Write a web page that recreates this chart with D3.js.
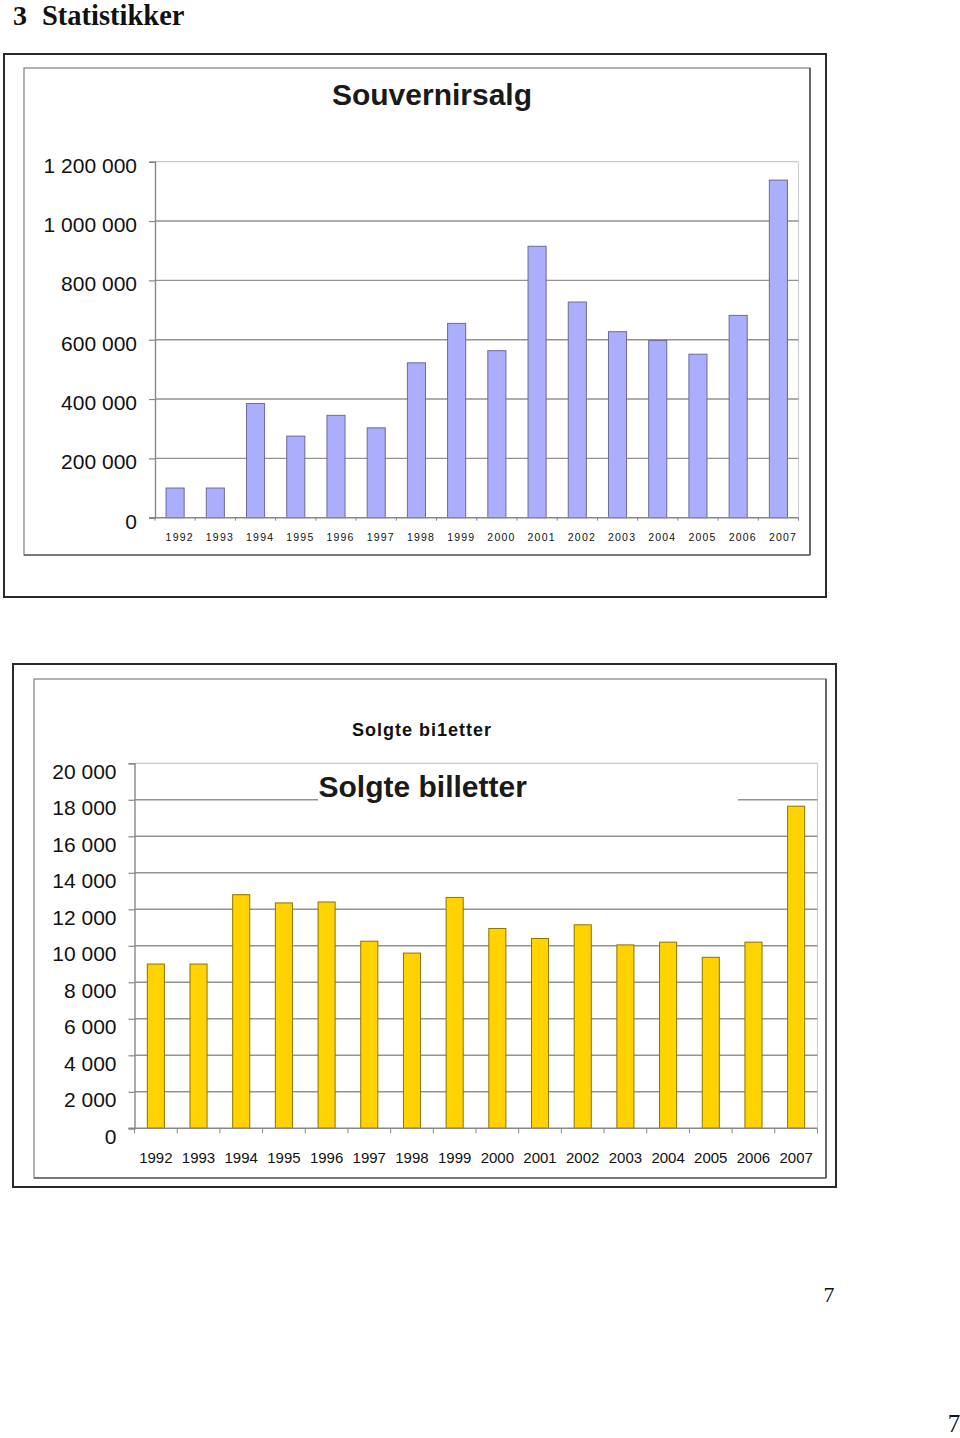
<!DOCTYPE html>
<html>
<head>
<meta charset="utf-8">
<script src="https://cdn.jsdelivr.net/npm/d3@7"></script>
<style>
  html, body { margin: 0; padding: 0; background: #fff; }
  svg { display: block; }
</style>
</head>
<body>
<svg id="page" width="960" height="1438"></svg>
<script>
// ---------- data ----------
const years = ["1992","1993","1994","1995","1996","1997","1998","1999","2000","2001","2002","2003","2004","2005","2006","2007"];
const souvenirSales = [100000,100000,385000,275000,345000,303000,522000,655000,563000,915000,727000,627000,597000,551000,682000,1138000];
const ticketsSold = [9000,9000,12800,12350,12400,10250,9600,12650,10950,10400,11150,10050,10200,9370,10200,17650];
const souvenirTicks = [0,200000,400000,600000,800000,1000000,1200000];
const ticketTicks = [0,2000,4000,6000,8000,10000,12000,14000,16000,18000,20000];

const nb = d3.formatLocale({decimal: ",", thousands: " ", grouping: [3], currency: ["", ""]});
const fmt = nb.format(",");

const svg = d3.select("#page");
svg.append("rect").attr("width", 960).attr("height", 1438).attr("fill", "#fff");

// ---------- page header ----------
svg.append("text").attr("x", 13).attr("y", 25)
  .attr("font-family", "'Liberation Serif','Times New Roman',serif")
  .attr("font-weight", "bold").attr("font-size", 28).attr("fill", "#111").text("3");
svg.append("text").attr("x", 42).attr("y", 25)
  .attr("font-family", "'Liberation Serif','Times New Roman',serif")
  .attr("font-weight", "bold").attr("font-size", 28.5).attr("fill", "#111").text("Statistikker");

function frame(outer, inner) {
  svg.append("rect").attr("x", outer[0]).attr("y", outer[1])
    .attr("width", outer[2] - outer[0]).attr("height", outer[3] - outer[1])
    .attr("fill", "none").attr("stroke", "#2a2a2a").attr("stroke-width", 2);
  svg.append("rect").attr("x", inner[0]).attr("y", inner[1])
    .attr("width", inner[2] - inner[0]).attr("height", inner[3] - inner[1])
    .attr("fill", "none").attr("stroke", "#808080").attr("stroke-width", 1.2);
  svg.append("line").attr("x1", inner[2]).attr("x2", inner[2]).attr("y1", inner[1]).attr("y2", inner[3])
    .attr("stroke", "#555").attr("stroke-width", 1.6);
  svg.append("line").attr("x1", inner[0]).attr("x2", inner[2]).attr("y1", inner[3]).attr("y2", inner[3])
    .attr("stroke", "#666").attr("stroke-width", 1.6);
}

function barChart(opt) {
  const g = svg.append("g");
  const x = d3.scaleBand().domain(years).range([opt.x0, opt.x1])
    .paddingInner(opt.pad).paddingOuter(opt.pad / 2);
  const y = d3.scaleLinear().domain([0, opt.max]).range([opt.y0, opt.y1]);

  g.append("line").attr("x1", opt.x0).attr("x2", opt.x1).attr("y1", y(opt.max)).attr("y2", y(opt.max))
    .attr("stroke", "#c8c8c8").attr("stroke-width", 1.2);
  g.append("line").attr("x1", opt.x1).attr("x2", opt.x1).attr("y1", y(opt.max)).attr("y2", y(0))
    .attr("stroke", "#d0d0d0").attr("stroke-width", 1.2);

  g.selectAll("line.grid").data(opt.ticks.filter(t => t > 0 && t < opt.max)).join("line")
    .attr("class", "grid")
    .attr("x1", opt.x0).attr("x2", opt.x1)
    .attr("y1", d => y(d)).attr("y2", d => y(d))
    .attr("stroke", "#939393").attr("stroke-width", 1.4);

  if (opt.beforeBars) opt.beforeBars(g);

  g.selectAll("rect.bar").data(opt.values).join("rect")
    .attr("class", "bar")
    .attr("x", (d, i) => x(years[i]))
    .attr("width", x.bandwidth())
    .attr("y", d => y(d))
    .attr("height", d => y(0) - y(d))
    .attr("fill", opt.fill).attr("stroke", opt.stroke).attr("stroke-width", 1);

  const ya = g.append("g").attr("transform", `translate(${opt.x0},0)`)
    .call(d3.axisLeft(y).tickValues(opt.ticks).tickSize(opt.tick).tickPadding(opt.ypad).tickFormat(fmt));
  ya.select(".domain").attr("stroke", "#888").attr("stroke-width", 1.4);
  ya.selectAll(".tick line").attr("stroke", "#888").attr("stroke-width", 1.2);
  ya.selectAll(".tick text")
    .attr("font-family", "Arial, 'Liberation Sans', sans-serif")
    .attr("font-size", opt.yFont).attr("fill", "#111")
    .attr("dy", opt.yDy);

  g.append("line").attr("x1", opt.x0 - opt.tick).attr("x2", opt.x1).attr("y1", y(0)).attr("y2", y(0))
    .attr("stroke", "#888").attr("stroke-width", 1.4);
  const bounds = d3.range(years.length + 1).map(i => opt.x0 + i * x.step());
  g.selectAll("line.xt").data(bounds).join("line").attr("class", "xt")
    .attr("x1", d => d).attr("x2", d => d).attr("y1", y(0)).attr("y2", y(0) + opt.xtick)
    .attr("stroke", "#888").attr("stroke-width", 1);

  g.selectAll("text.xl").data(years).join("text").attr("class", "xl")
    .attr("x", d => x(d) + x.bandwidth() / 2 + (opt.xls || 0) / 2 + (opt.xShift || 0))
    .attr("y", opt.xLabelY)
    .attr("text-anchor", "middle")
    .attr("font-family", "Arial, 'Liberation Sans', sans-serif")
    .attr("font-size", opt.xFont)
    .attr("letter-spacing", opt.xls || 0)
    .attr("fill", "#111")
    .text(d => d);
  return {x, y, g};
}

// ---------- chart 1: Souvernirsalg ----------
frame([4, 54, 826, 597], [24, 68, 810, 555]);
svg.append("text").attr("x", 432).attr("y", 105).attr("text-anchor", "middle")
  .attr("font-family", "Arial, 'Liberation Sans', sans-serif")
  .attr("font-weight", "bold").attr("font-size", 30).attr("fill", "#1a1a1a")
  .text("Souvernirsalg");

barChart({
  x0: 155, x1: 798.5, y0: 517.7, y1: 161.7, max: 1200000,
  values: souvenirSales, ticks: souvenirTicks, pad: 0.55,
  fill: "#aaaefc", stroke: "#6b6b99",
  tick: 6, ypad: 12, yFont: 21, yDy: "0.5em",
  xtick: 3, xLabelY: 541, xFont: 10.5, xls: 1.2, xShift: 4
});

// ---------- chart 2: Solgte billetter ----------
frame([13, 664, 836, 1187], [34, 679, 826, 1178]);
svg.append("text").attr("x", 422).attr("y", 735.5).attr("text-anchor", "middle")
  .attr("font-family", "Arial, 'Liberation Sans', sans-serif")
  .attr("font-weight", "bold").attr("font-size", 18).attr("letter-spacing", 1)
  .attr("fill", "#111").text("Solgte bi1etter");

barChart({
  x0: 134.5, x1: 817.5, y0: 1128.3, y1: 763.3, max: 20000,
  values: ticketsSold, ticks: ticketTicks, pad: 0.6,
  fill: "#ffd200", stroke: "#8a7400",
  tick: 6, ypad: 12, yFont: 21, yDy: "0.72em",
  xtick: 5, xLabelY: 1162.5, xFont: 15, xls: 0, xShift: 0,
  beforeBars: g => {
    g.append("rect").attr("x", 318).attr("y", 768).attr("width", 420).attr("height", 38).attr("fill", "#fff");
    g.append("text").attr("x", 318.5).attr("y", 797)
      .attr("font-family", "Arial, 'Liberation Sans', sans-serif")
      .attr("font-weight", "bold").attr("font-size", 30).attr("fill", "#1a1a1a")
      .text("Solgte billetter");
  }
});

// ---------- page numbers ----------
svg.append("text").attr("x", 829).attr("y", 1302).attr("text-anchor", "middle")
  .attr("font-family", "'Liberation Serif','Times New Roman',serif")
  .attr("font-size", 22).attr("fill", "#111").text("7");
svg.append("text").attr("x", 954).attr("y", 1432).attr("text-anchor", "middle")
  .attr("font-family", "'Liberation Serif','Times New Roman',serif")
  .attr("font-size", 25).attr("fill", "#111").text("7");
</script>
</body>
</html>
